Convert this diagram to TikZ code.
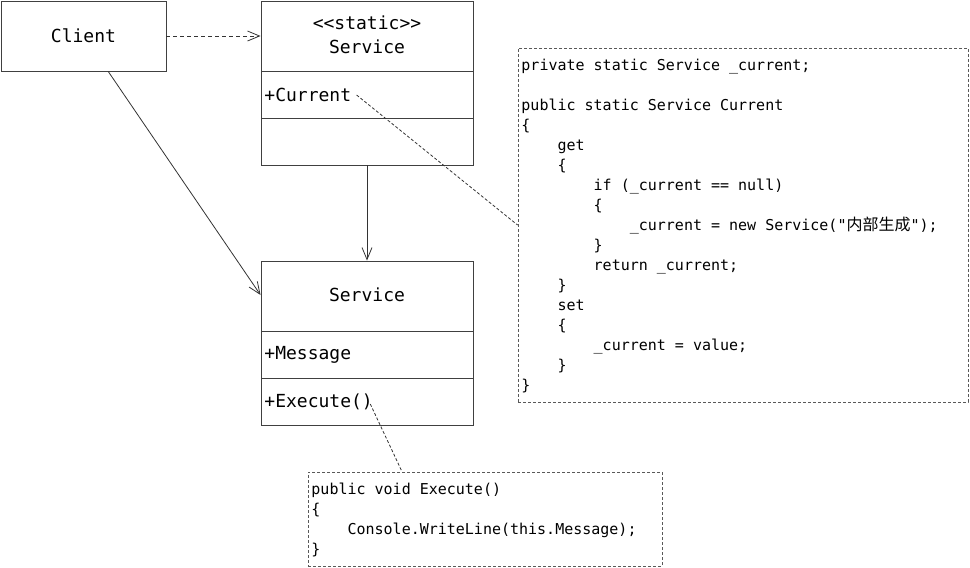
\documentclass[tikz,border=0pt]{standalone}
\usepackage{fontspec}
\newfontfamily\mono{DejaVu Sans Mono}
\newfontfamily\cjk{Noto Sans CJK SC}
\usetikzlibrary{arrows.meta,calc}
\newcommand\IndA{\hphantom{xxxx}}
\newcommand\IndB{\hphantom{xxxxxxxx}}
\newcommand\IndC{\hphantom{xxxxxxxxxxxx}}
\begin{document}
\begin{tikzpicture}[x=1pt,y=-1pt,
  line width=0.9pt,
  umlbox/.style={draw=black!75, minimum width=212pt, minimum height=164pt, inner sep=0pt},
  boxtext/.style={font=\mono\fontsize{18}{24}\selectfont, inner sep=1pt},
  codebox/.style={draw=black!65, dash pattern=on 3pt off 2pt, inner sep=0pt},
  codetext/.style={font=\mono\fontsize{15}{20}\selectfont, align=left, anchor=north west, inner sep=0pt},
  open/.style={-{Straight Barb[length=12pt,width=10pt]}},
  link/.style={draw=black!80, line width=0.8pt},
  note/.style={draw=black!80, line width=0.8pt, dash pattern=on 3pt off 2pt},
]
\useasboundingbox (0,0) rectangle (970,568);

% Client
\node[umlbox, minimum width=165pt, minimum height=70pt, font=\mono\fontsize{18}{24}\selectfont] (client) at (83.5,36) {Client};

% static Service
\node[umlbox] (ss) at (367,83) {};
\node[boxtext, align=center] (sstitle) at (367,35) {<<static>>\\Service};
\draw[draw=black!75] (261,71) -- (473,71);
\draw[draw=black!75] (261,118) -- (473,118);
\node[boxtext, anchor=west] (cur) at (263,95) {+Current};

% Service
\node[umlbox] (svc) at (367,343) {};
\node[boxtext] (svctitle) at (367,295) {Service};
\draw[draw=black!75] (261,331) -- (473,331);
\draw[draw=black!75] (261,378) -- (473,378);
\node[boxtext, anchor=west] (msg) at (263,355) {+Message};
\node[boxtext, anchor=west] (exec) at (263,402) {+Execute()};

% code box 1
\node[codebox, minimum width=450pt, minimum height=354pt] (code1) at (743,225) {};
\node[codetext] (code1txt) at (521,58) {\rule{0pt}{12pt}private static Service \_current;\\[20pt]
public static Service Current\\
\{\\
\IndA get\\
\IndA\{\\
\IndB if (\_current == null)\\
\IndB\{\\
\IndC\_current = new Service("{\cjk\fontsize{16}{20}\selectfont 内部生成}");\\
\IndB\}\\
\IndB return \_current;\\
\IndA\}\\
\IndA set\\
\IndA\{\\
\IndB\_current = value;\\
\IndA\}\\
\}};

% code box 2
\node[codebox, minimum width=354pt, minimum height=94pt] (code2) at (485,519) {};
\node[codetext] (code2txt) at (311,482) {\rule{0pt}{12pt}public void Execute()\\
\{\\
\IndA Console.WriteLine(this.Message);\\
\}};

% connectors
\draw[link, open, dash pattern=on 4pt off 3pt] (client.east) -- (ss.west |- client.east);
\draw[link, open] ($(client.south west)!0.649!(client.south east)$) -- (svc.west |- svctitle);
\draw[link, open] (ss.south) -- (svc.north);
\draw[note] ([xshift=4pt]cur.east) -- (code1.west);
\draw[note] ([xshift=-4pt,yshift=-2pt]exec.east) -- ($(code2.north west)!0.266!(code2.north east)$);
\end{tikzpicture}
\end{document}
